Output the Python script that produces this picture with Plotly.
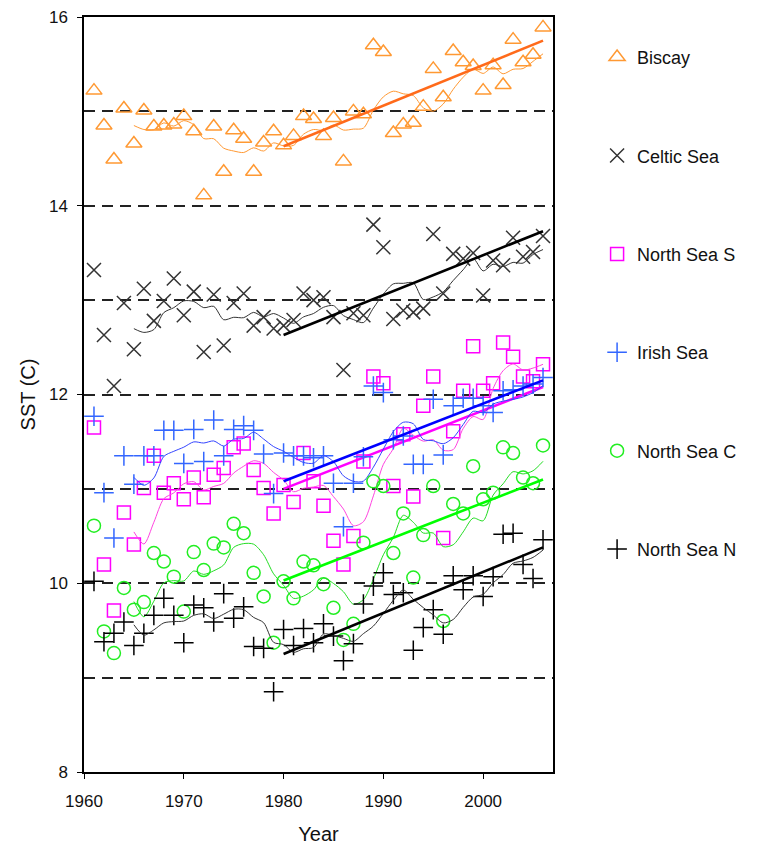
import numpy as np
import plotly.graph_objects as go

years = list(range(1961, 2007))

biscay = [15.22, 14.85, 14.49, 15.03, 14.66, 15.01, 14.84, 14.85, 14.86, 14.95,
          14.79, 14.11, 14.84, 14.36, 14.80, 14.71, 14.36, 14.67, 14.79, 14.64,
          14.74, 14.95, 14.92, 14.74, 14.93, 14.47, 15.00, 14.97, 15.70, 15.63,
          14.77, 14.86, 14.88, 15.05, 15.45, 15.15, 15.64, 15.52, 15.48, 15.22,
          15.49, 15.28, 15.76, 15.52, 15.60, 15.89]

celtic_sea = [13.32, 12.63, 12.09, 12.97, 12.48, 13.12, 12.78, 12.99, 13.23, 12.84,
              13.09, 12.45, 13.06, 12.52, 12.97, 13.07, 12.73, 12.82, 12.70, 12.73,
              12.79, 13.07, 13.00, 13.03, 12.82, 12.26, 12.86, 12.84, 13.80, 13.56,
              12.80, 12.89, 12.87, 12.91, 13.70, 13.07, 13.49, 13.44, 13.50, 13.05,
              13.42, 13.37, 13.66, 13.46, 13.51, 13.68]

north_sea_s = [11.65, 10.20, 9.71, 10.75, 10.41, 11.01, 11.35, 10.96, 11.06, 10.89,
               11.12, 10.91, 11.15, 11.22, 11.44, 11.48, 11.20, 11.01, 10.74, 11.04,
               10.86, 11.38, 11.08, 10.82, 10.45, 10.20, 10.50, 11.29, 12.19, 12.12,
               11.03, 11.58, 10.92, 11.88, 12.19, 10.48, 11.61, 12.04, 12.51, 12.04,
               12.12, 12.55, 12.40, 12.19, 12.14, 12.32]

irish_sea = [11.77, 10.96, 10.48, 11.35, 11.05, 11.35, 11.35, 11.62, 11.62, 11.27,
             11.63, 11.29, 11.73, 11.35, 11.63, 11.67, 11.62, 11.37, 10.95, 11.38,
             11.35, 11.35, 11.33, 11.35, 11.06, 10.60, 11.06, 11.34, 12.09, 12.02,
             11.52, 11.56, 11.26, 11.26, 11.95, 11.36, 11.88, 11.96, 11.96, 11.88,
             11.81, 12.04, 12.05, 12.09, 12.11, 12.18]

north_sea_c = [10.61, 9.49, 9.26, 9.95, 9.72, 9.80, 10.32, 10.23, 10.07, 9.70,
               10.33, 10.14, 10.42, 10.38, 10.63, 10.53, 10.11, 9.86, 9.37, 10.02,
               9.84, 10.23, 10.19, 9.99, 9.74, 9.40, 9.57, 10.43, 11.08, 11.03,
               10.32, 10.74, 10.06, 10.51, 11.03, 9.60, 10.84, 10.74, 11.24, 10.89,
               10.96, 11.44, 11.38, 11.12, 11.06, 11.46]

north_sea_n = [10.02, 9.38, 9.47, 9.59, 9.34, 9.47, 9.66, 9.84, 9.66, 9.37,
               9.77, 9.74, 9.59, 9.89, 9.63, 9.75, 9.33, 9.31, 8.85, 9.51,
               9.34, 9.52, 9.37, 9.57, 9.44, 9.18, 9.36, 9.78, 9.97, 10.11,
               9.88, 9.90, 9.29, 9.53, 9.72, 9.46, 10.08, 9.93, 10.08, 9.86,
               10.07, 10.52, 10.53, 10.20, 10.05, 10.46]

series_names = ["Biscay", "Celtic Sea", "North Sea S", "Irish Sea", "North Sea C", "North Sea N"]
series_values = [biscay, celtic_sea, north_sea_s, irish_sea, north_sea_c, north_sea_n]

# linear trend lines (1980-2006), end values
trend_years = [1980, 2006]
trend_1980 = [14.63, 12.63, 11.00, 11.08, 10.03, 9.25]
trend_2006 = [15.75, 13.73, 12.08, 12.15, 11.10, 10.38]

ma_window = 5

styles = {
    "Biscay":      dict(symbol="triangle-up-open", mcolor="#FF9933", size=14, scolor="#FF9933", tcolor="#FF6A1A"),
    "Celtic Sea":  dict(symbol="x-thin-open", mcolor="#333333", size=14, scolor="#333333", tcolor="#000000"),
    "North Sea S": dict(symbol="square-open", mcolor="#FF00FF", size=13, scolor="#FF44E0", tcolor="#FF00FF"),
    "Irish Sea":   dict(symbol="cross-thin-open", mcolor="#3366FF", size=14, scolor="#3344FF", tcolor="#0000FF"),
    "North Sea C": dict(symbol="circle-open", mcolor="#22EE22", size=13, scolor="#22DD22", tcolor="#00FF00"),
    "North Sea N": dict(symbol="cross-thin-open", mcolor="#000000", size=14, scolor="#333333", tcolor="#000000"),
}

fig = go.Figure()
for i, (name, vals) in enumerate(zip(series_names, series_values)):
    st = styles[name]
    v = np.array(vals)
    fig.add_trace(go.Scatter(
        x=years, y=vals, mode="markers", name=name, legendgroup=name,
        marker=dict(symbol=st["symbol"], size=st["size"], color=st["mcolor"],
                    line=dict(color=st["mcolor"], width=1.5)),
    ))
    # 5-year trailing moving average of the plotted values
    ma = np.convolve(v, np.ones(ma_window) / ma_window, mode="valid")
    fig.add_trace(go.Scatter(
        x=years[ma_window - 1:], y=ma, mode="lines", showlegend=False, legendgroup=name,
        line=dict(color=st["scolor"], width=1, shape="spline", smoothing=0.8),
        hoverinfo="skip",
    ))
    fig.add_trace(go.Scatter(
        x=trend_years, y=[trend_1980[i], trend_2006[i]], mode="lines",
        showlegend=False, legendgroup=name,
        line=dict(color=st["tcolor"], width=2.6), hoverinfo="skip",
    ))

grid_style = dict(gridcolor="#222222", griddash="11px,7px", gridwidth=1.7)

fig.update_layout(
    width=758, height=845,
    margin=dict(l=84, r=205, t=17, b=73, autoexpand=False),
    paper_bgcolor="white", plot_bgcolor="white",
    font=dict(family="Liberation Sans, Arial, sans-serif", size=17, color="#111111"),
    showlegend=True,
    hovermode=False,
    legend=dict(x=1.094, xanchor="left", y=0.971, yanchor="top",
                tracegroupgap=72, font=dict(size=18), bgcolor="rgba(0,0,0,0)",
                itemwidth=30),
    xaxis=dict(range=[1960, 2007], tickvals=[1960, 1970, 1980, 1990, 2000],
               ticks="outside", ticklen=5, tickcolor="#000", showline=True,
               linecolor="#000", linewidth=1.5, mirror=True, showgrid=False,
               zeroline=False, automargin=False, ticklabelstandoff=8,
               title=dict(text="Year", standoff=22)),
    yaxis=dict(range=[8, 16], tickvals=[8, 10, 12, 14, 16],
               ticks="outside", ticklen=5, tickcolor="#000", showline=True,
               linecolor="#000", linewidth=1.5, mirror=True, zeroline=False,
               automargin=False, ticklabelstandoff=6,
               showgrid=True, **grid_style,
               minor=dict(tickvals=[9, 11, 13, 15], showgrid=True, ticks="", **grid_style),
               title=dict(text="SST (C)", standoff=8)),
)

fig.write_html("out.html", config={"displayModeBar": False},
               post_script="document.body.style.margin='0';")
